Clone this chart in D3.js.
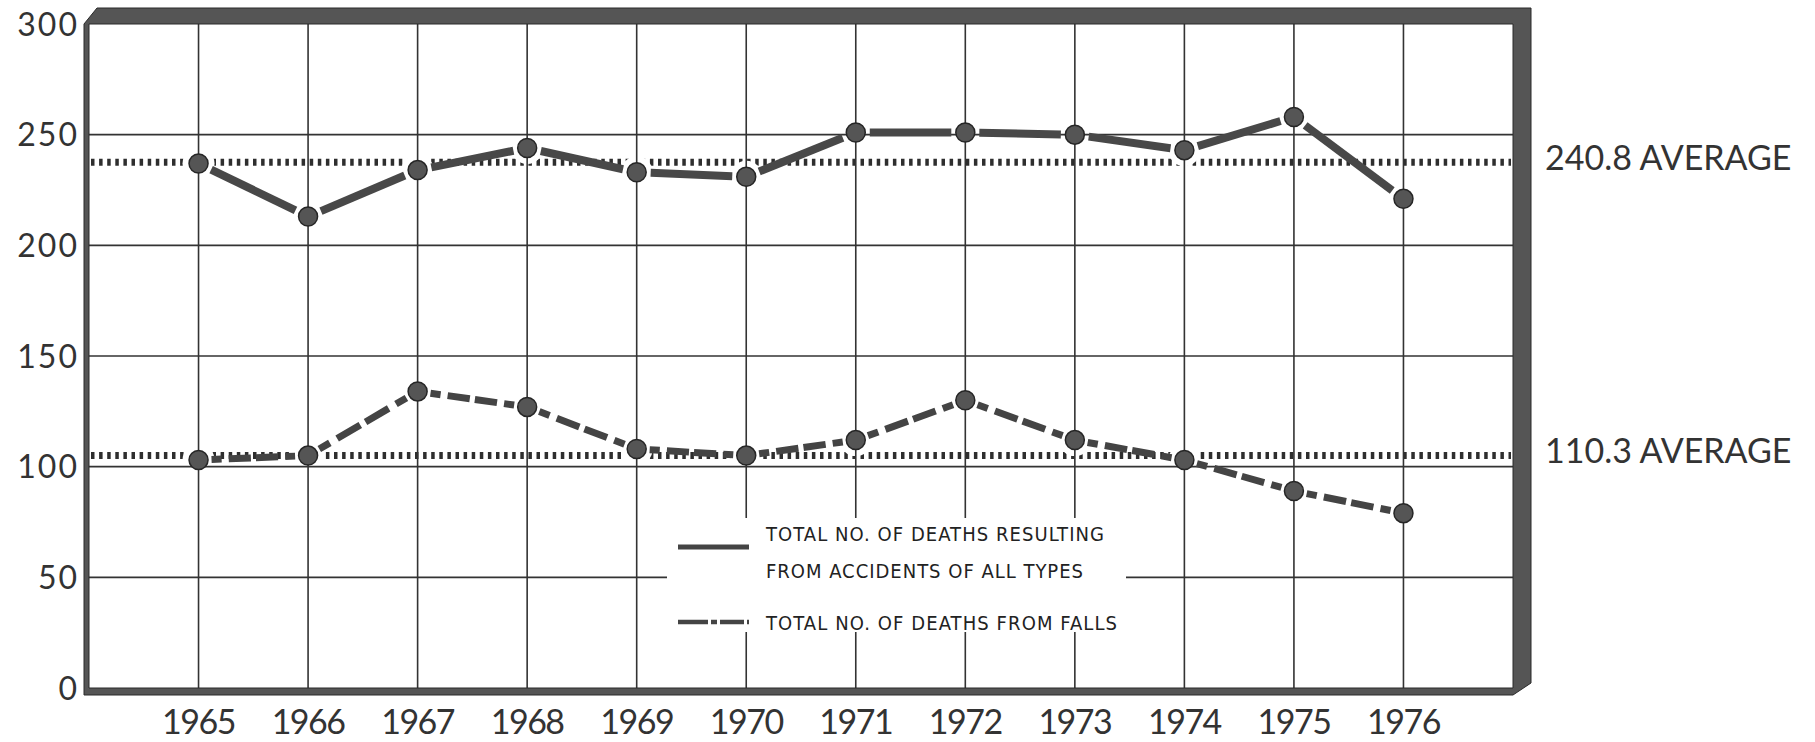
<!DOCTYPE html>
<html>
<head>
<meta charset="utf-8">
<title>Deaths from accidents and from falls, 1965-1976</title>
<style>
body { margin: 0; background: #fff; }
</style>
</head>
<body>
<script src="https://cdn.jsdelivr.net/npm/d3@7"></script>
<script>
var years = [1965, 1966, 1967, 1968, 1969, 1970, 1971, 1972, 1973, 1974, 1975, 1976];
var allAccidents = [237, 213, 234, 244, 233, 231, 251, 251, 250, 243, 258, 221];
var falls = [103, 105, 134, 127, 108, 105, 112, 130, 112, 103, 89, 79];
var yTicks = [0, 50, 100, 150, 200, 250, 300];
// the dotted average lines, as drawn in the picture, and their labels
var averageLevels = [237.5, 105];
var averageLabels = ['240.8 AVERAGE', '110.3 AVERAGE'];
var legendLines = ['TOTAL NO. OF DEATHS RESULTING', 'FROM ACCIDENTS OF ALL TYPES', 'TOTAL NO. OF DEATHS FROM FALLS'];

var W = 1815, H = 742;
var ink = '#333';

var svg = d3.select('body').append('svg')
	.attr('width', W)
	.attr('height', H);

var x = d3.scaleLinear().domain([1964, 1977]).range([89, 1513]);
var y = d3.scaleLinear().domain([0, 300]).range([688, 24]);

var plotLeft = x.range()[0], plotRight = x.range()[1];
var plotTop = y(300), plotBottom = y(0);

// average lines (thick dotted)
svg.selectAll('.avg')
	.data(averageLevels)
	.enter().append('line')
	.attr('x1', plotLeft + 2)
	.attr('x2', plotRight - 2)
	.attr('y1', function(d) { return y(d); })
	.attr('y2', function(d) { return y(d); })
	.attr('stroke', '#2e2e2e')
	.attr('stroke-width', 7)
	.attr('stroke-dasharray', '3.5 4.6');

// white gaps round the points
var pts = [];
years.forEach(function(yr, i) {
	pts.push([yr, allAccidents[i]]);
	pts.push([yr, falls[i]]);
});
svg.selectAll('.halo')
	.data(pts)
	.enter().append('circle')
	.attr('cx', function(d) { return x(d[0]); })
	.attr('cy', function(d) { return y(d[1]); })
	.attr('r', 16)
	.attr('fill', '#fff');

// grid
svg.selectAll('.hgrid')
	.data(yTicks.filter(function(d) { return d > 0 && d < 300; }))
	.enter().append('line')
	.attr('x1', plotLeft)
	.attr('x2', plotRight)
	.attr('y1', function(d) { return y(d); })
	.attr('y2', function(d) { return y(d); })
	.attr('stroke', '#333')
	.attr('stroke-width', 1.6);

svg.selectAll('.vgrid')
	.data(years)
	.enter().append('line')
	.attr('x1', function(d) { return x(d); })
	.attr('x2', function(d) { return x(d); })
	.attr('y1', plotTop)
	.attr('y2', plotBottom)
	.attr('stroke', '#333')
	.attr('stroke-width', 1.6);

// legend panel blanks out the grid
var lg = { x: 667, y: 518, w: 459, h: 114 };
svg.append('rect')
	.attr('x', lg.x).attr('y', lg.y)
	.attr('width', lg.w).attr('height', lg.h)
	.attr('fill', '#fff');

// frame with thick shadow on top and right
var path = 'M' + (plotLeft - 5) + ',' + plotTop +
	' L' + (plotLeft + 8) + ',' + (plotTop - 16) +
	' L' + (plotRight + 18) + ',' + (plotTop - 16) +
	' L' + (plotRight + 18) + ',' + (plotBottom - 5) +
	' L' + plotRight + ',' + (plotBottom + 7) +
	' L' + (plotLeft - 5) + ',' + (plotBottom + 7) + ' Z' +
	' M' + plotLeft + ',' + plotTop +
	' L' + plotRight + ',' + plotTop +
	' L' + plotRight + ',' + plotBottom +
	' L' + plotLeft + ',' + plotBottom + ' Z';
svg.append('path')
	.attr('d', path)
	.attr('fill', '#555')
	.attr('fill-rule', 'evenodd')
	.attr('stroke', '#2a2a2a')
	.attr('stroke-width', 1);

// series segments, broken short of each point
function segments(vals, gap) {
	var out = [];
	for (var i = 0; i < vals.length - 1; i++) {
		var x0 = x(years[i]), y0 = y(vals[i]);
		var x1 = x(years[i + 1]), y1 = y(vals[i + 1]);
		var len = Math.sqrt((x1 - x0) * (x1 - x0) + (y1 - y0) * (y1 - y0));
		var ux = (x1 - x0) / len, uy = (y1 - y0) / len;
		out.push({
			x1: x0 + ux * gap, y1: y0 + uy * gap,
			x2: x1 - ux * gap, y2: y1 - uy * gap,
			len: len - 2 * gap
		});
	}
	return out;
}

svg.selectAll('.seg1')
	.data(segments(allAccidents, 14))
	.enter().append('line')
	.attr('x1', function(d) { return d.x1; })
	.attr('y1', function(d) { return d.y1; })
	.attr('x2', function(d) { return d.x2; })
	.attr('y2', function(d) { return d.y2; })
	.attr('stroke', '#484848')
	.attr('stroke-width', 8);

var fallPattern = [10, 7, 22, 5, 22, 7, 10];
var patSum = d3.sum(fallPattern);
svg.selectAll('.seg2')
	.data(segments(falls, 13))
	.enter().append('line')
	.attr('x1', function(d) { return d.x1; })
	.attr('y1', function(d) { return d.y1; })
	.attr('x2', function(d) { return d.x2; })
	.attr('y2', function(d) { return d.y2; })
	.attr('stroke', '#444')
	.attr('stroke-width', 7)
	.attr('stroke-dasharray', function(d) {
		var k = d.len / patSum;
		return fallPattern.map(function(v) { return (v * k).toFixed(1); }).join(' ') + ' 40';
	});

svg.selectAll('.pt')
	.data(pts)
	.enter().append('circle')
	.attr('cx', function(d) { return x(d[0]); })
	.attr('cy', function(d) { return y(d[1]); })
	.attr('r', 9.5)
	.attr('fill', '#555')
	.attr('stroke', '#262626')
	.attr('stroke-width', 1.5);

// axis labels
svg.selectAll('.ylab')
	.data(yTicks)
	.enter().append('text')
	.attr('x', plotLeft - 10)
	.attr('y', function(d) { return y(d); })
	.attr('dy', '0.36em')
	.attr('text-anchor', 'end')
	.attr('font-family', 'Lato, sans-serif')
	.attr('font-size', 32)
	.attr('letter-spacing', 2)
	.attr('fill', ink)
	.text(function(d) { return d; });

svg.selectAll('.xlab')
	.data(years)
	.enter().append('text')
	.attr('x', function(d) { return x(d); })
	.attr('y', plotBottom + 46)
	.attr('text-anchor', 'middle')
	.attr('font-family', 'Lato, sans-serif')
	.attr('font-size', 34)
	.attr('letter-spacing', -1.5)
	.attr('fill', ink)
	.text(function(d) { return d; });

svg.selectAll('.avglab')
	.data(averageLevels)
	.enter().append('text')
	.attr('x', plotRight + 32)
	.attr('y', function(d) { return y(d) - 5; })
	.attr('dy', '0.36em')
	.attr('font-family', 'Lato, sans-serif')
	.attr('font-size', 34)
	.attr('fill', ink)
	.text(function(d, i) { return averageLabels[i]; });

// legend
var legendText = svg.append('g')
	.attr('font-family', '"DejaVu Sans Condensed", "DejaVu Sans", sans-serif')
	.attr('font-size', 20)
	.attr('fill', '#222');
var lineY = [541, 578, 630];
var lineW = [338, 317, 351];
legendText.selectAll('text')
	.data(legendLines)
	.enter().append('text')
	.attr('x', 766)
	.attr('y', function(d, i) { return lineY[i]; })
	.attr('textLength', function(d, i) { return lineW[i]; })
	.attr('lengthAdjust', 'spacing')
	.text(function(d) { return d; });

svg.append('line')
	.attr('x1', 678).attr('x2', 749)
	.attr('y1', 547).attr('y2', 547)
	.attr('stroke', '#444')
	.attr('stroke-width', 5);

svg.append('line')
	.attr('x1', 678).attr('x2', 749)
	.attr('y1', 622).attr('y2', 622)
	.attr('stroke', '#444')
	.attr('stroke-width', 4.5)
	.attr('stroke-dasharray', '30 3 6 3 24 3 3');
</script>
</body>
</html>
